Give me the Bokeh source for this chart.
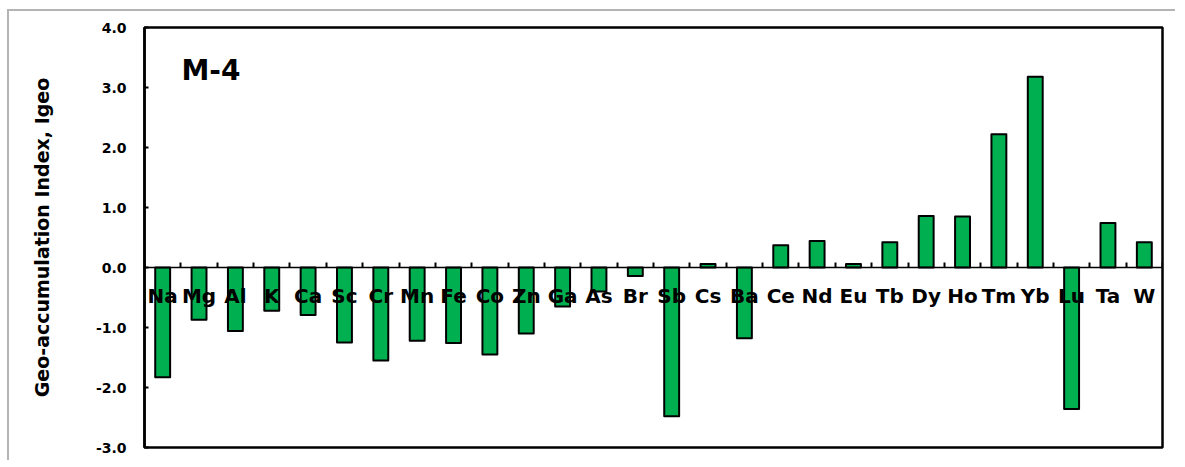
from bokeh.plotting import figure
from bokeh.models import Range1d, FixedTicker, PrintfTickFormatter, Label, ColumnDataSource
from bokeh.embed import file_html
from bokeh.resources import INLINE

elements = ["Na", "Mg", "Al", "K", "Ca", "Sc", "Cr", "Mn", "Fe", "Co", "Zn", "Ga", "As", "Br",
            "Sb", "Cs", "Ba", "Ce", "Nd", "Eu", "Tb", "Dy", "Ho", "Tm", "Yb", "Lu", "Ta", "W"]
igeo = [-1.83, -0.87, -1.06, -0.72, -0.79, -1.25, -1.55, -1.22, -1.26, -1.45, -1.10, -0.65, -0.40, -0.14,
        -2.48, 0.06, -1.18, 0.37, 0.44, 0.06, 0.42, 0.86, 0.85, 2.22, 3.18, -2.36, 0.74, 0.42]
y_ticks = [-3, -2, -1, 0, 1, 2, 3, 4]
panel_label = "M-4"
y_title = "Geo-accumulation Index, Igeo"

n = len(elements)
centers = [i + 1 for i in range(n)]
bounds = [i + 0.5 for i in range(n + 1)]

FONT = "DejaVu Sans"

p = figure(width=1168, height=451, output_backend="svg", toolbar_location=None,
           x_range=Range1d(0.5, n + 0.5), y_range=Range1d(min(y_ticks), max(y_ticks)),
           min_border_left=135, min_border_top=16, min_border_right=15, min_border_bottom=15)
p.styles = {"margin-left": "7px", "margin-top": "9px",
            "border-top": "2px solid #b4b4b4", "border-left": "2px solid #b4b4b4"}
p.grid.visible = False
p.background_fill_color = "white"
p.border_fill_color = "white"
p.outline_line_color = "black"
p.outline_line_width = 2.5
p.outline_line_alpha = 1.0

src = ColumnDataSource(dict(x=centers, top=igeo))
p.vbar(x="x", top="top", bottom=0, width=0.41, source=src,
       fill_color="#00B050", line_color="black", line_width=2, line_join="round")

# x axis at zero
xa = p.xaxis[0]
xa.fixed_location = 0
xa.ticker = FixedTicker(ticks=centers, minor_ticks=bounds)
xa.major_label_overrides = {c: e for c, e in zip(centers, elements)}
xa.major_tick_line_color = None
xa.minor_tick_in = 5
xa.minor_tick_out = 0
xa.minor_tick_line_width = 2
xa.minor_tick_line_color = "black"
xa.axis_line_color = "black"
xa.axis_line_width = 1.5
xa.major_label_standoff = 10
xa.major_label_text_font = FONT
xa.major_label_text_font_style = "bold"
xa.major_label_text_font_size = "20px"
xa.major_label_text_color = "black"

ya = p.yaxis[0]
ya.ticker = FixedTicker(ticks=y_ticks)
ya.formatter = PrintfTickFormatter(format="%.1f")
ya.major_tick_in = 4
ya.major_tick_out = 0
ya.major_tick_line_width = 2
ya.minor_tick_line_color = None
ya.axis_line_color = "black"
ya.axis_line_width = 2.5
ya.major_label_standoff = 18
ya.major_label_text_font = FONT
ya.major_label_text_font_style = "bold"
ya.major_label_text_font_size = "14px"
ya.major_label_text_color = "black"
ya.axis_label = y_title
ya.axis_label_text_font = FONT
ya.axis_label_text_font_style = "bold"
ya.axis_label_text_font_size = "19px"
ya.axis_label_text_color = "black"
ya.axis_label_standoff = 40

p.add_layout(Label(x=37, y=377, x_units="screen", y_units="screen", text=panel_label,
                   text_font=FONT, text_font_style="bold", text_font_size="28px",
                   text_color="black", text_baseline="alphabetic"))

open("out.html", "w").write(file_html(p, INLINE))
